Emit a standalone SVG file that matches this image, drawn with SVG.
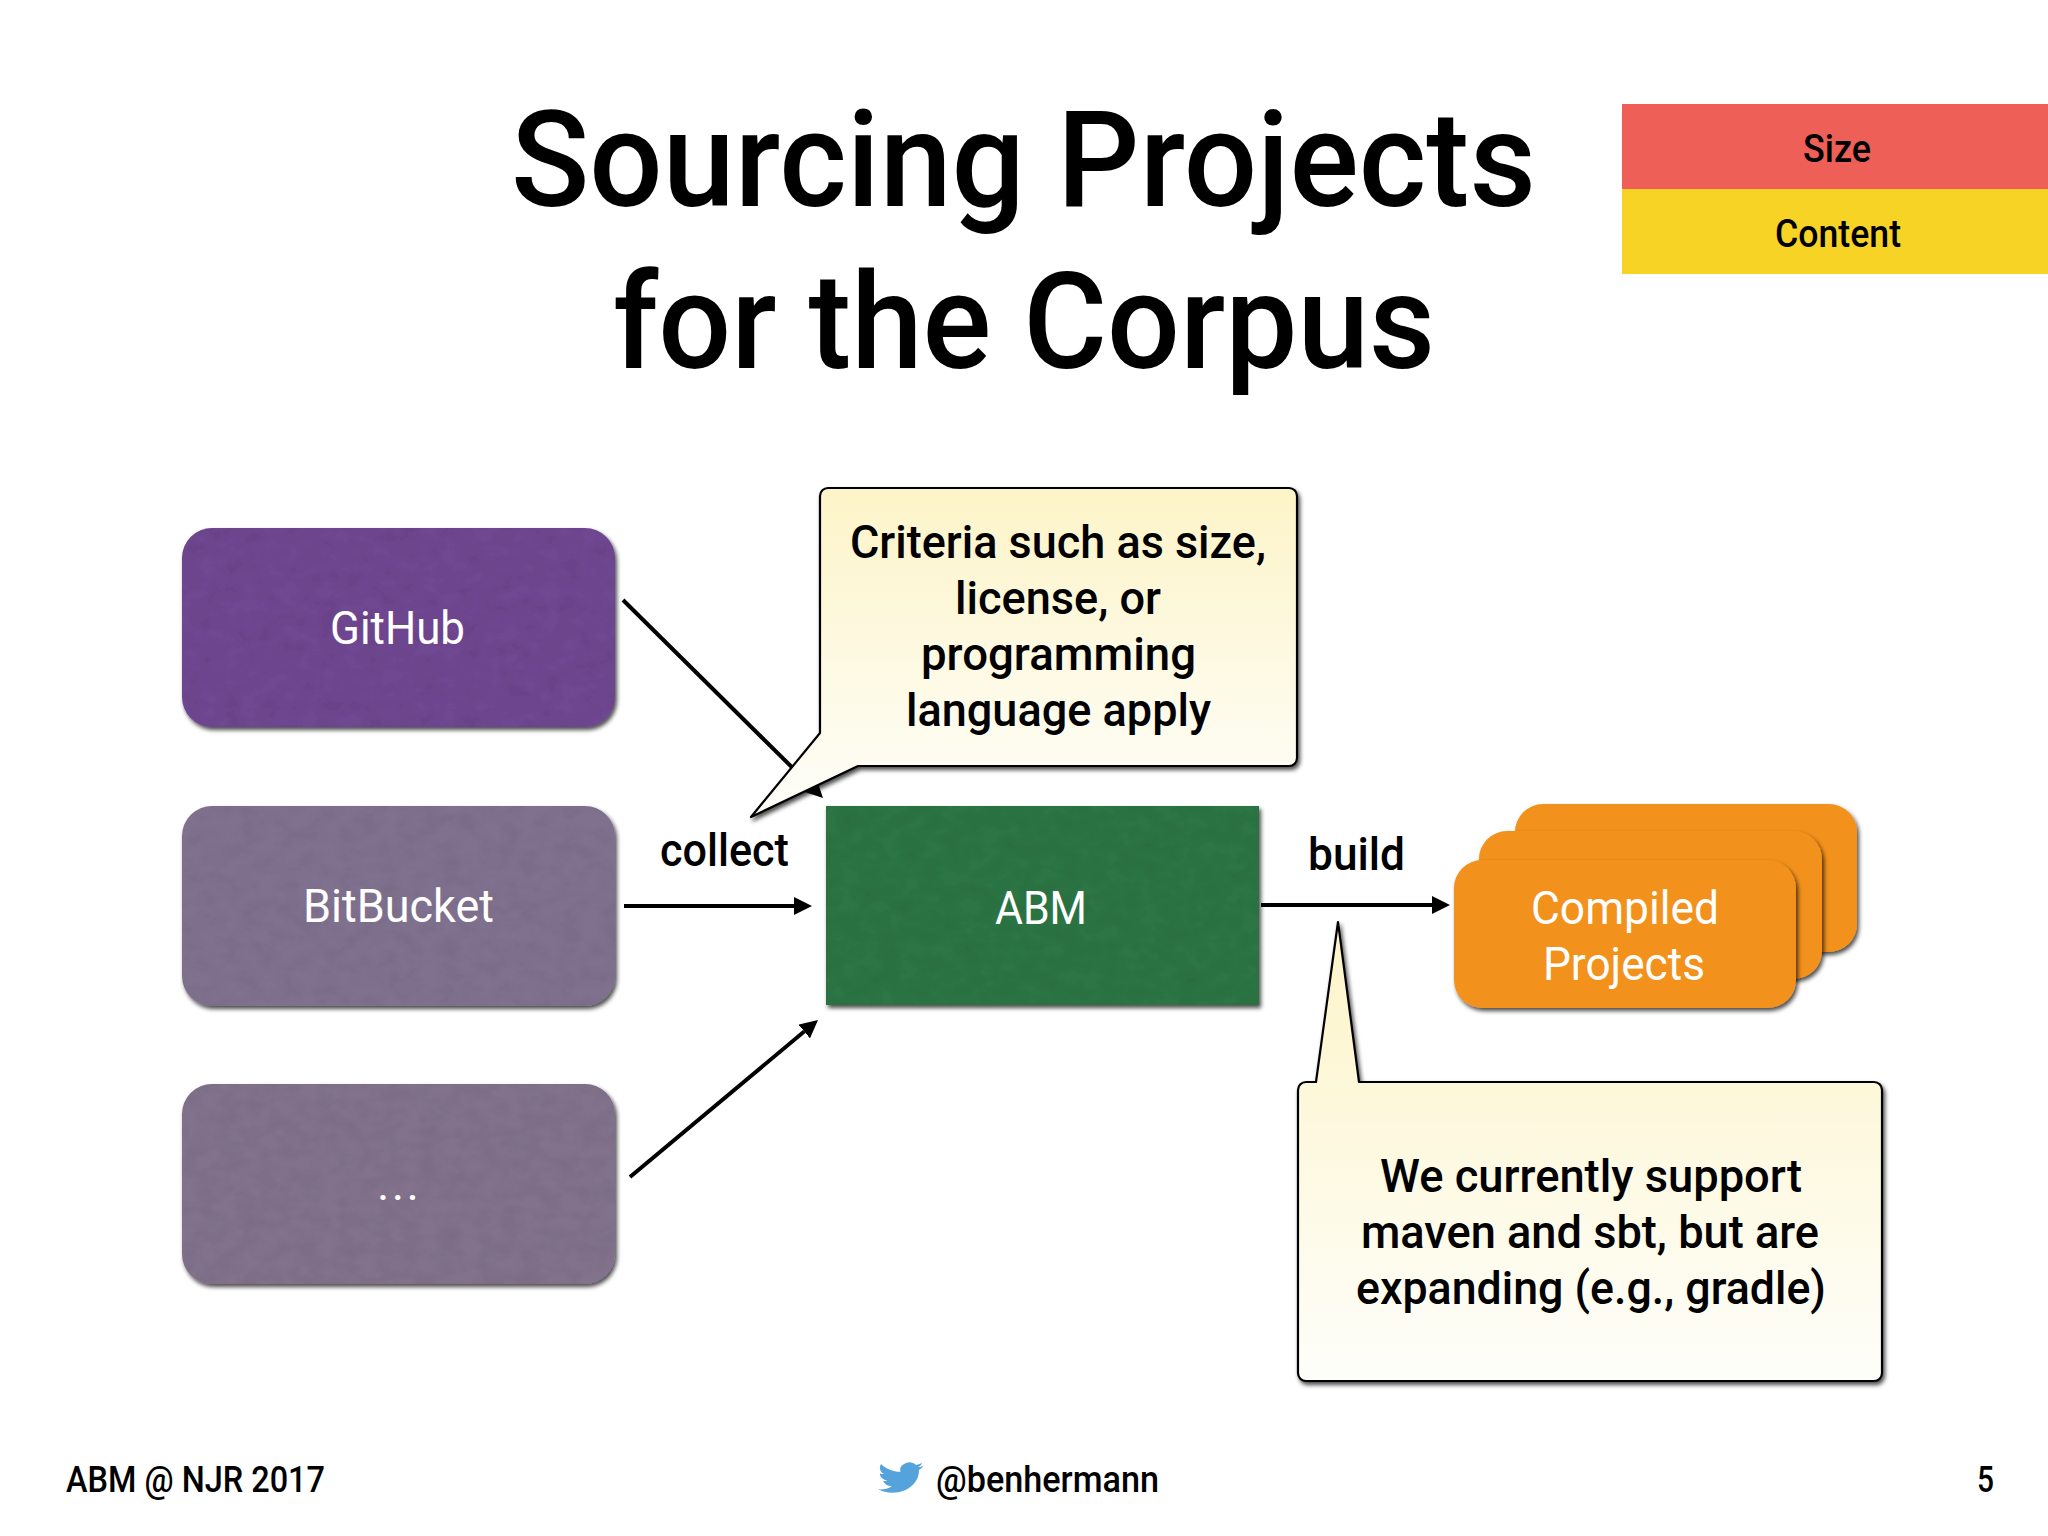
<svg xmlns="http://www.w3.org/2000/svg" width="2048" height="1536" viewBox="0 0 2048 1536">
<style>
text{font-family:"Roboto","Liberation Sans",sans-serif;fill:#000;font-weight:500}
.title{font-size:133px}
.w{fill:#fff;font-size:47px;font-weight:400}
.c{font-size:47px}
.f{font-size:36px}
.b{font-size:39px}
.ln{stroke:#000;stroke-width:4;fill:none;marker-end:url(#ah)}
.call{fill:url(#cg);stroke:#000;stroke-width:2.2;stroke-linejoin:round;filter:url(#sh)}
.or{fill:#F2911C;filter:url(#sh)}
</style>
<defs>
<marker id="ah" markerUnits="userSpaceOnUse" markerWidth="18" markerHeight="18" refX="0" refY="9" orient="auto"><path d="M0 0L18 9L0 18z" fill="#000"/></marker>
<linearGradient id="cg" x1="0" y1="0" x2="0" y2="1"><stop offset="0" stop-color="#FDF4C8"/><stop offset="1" stop-color="#FEFEFA"/></linearGradient>
<filter id="sh" x="-5%" y="-5%" width="110%" height="115%"><feDropShadow dx="2" dy="3" stdDeviation="2" flood-color="#000" flood-opacity="0.7"/></filter>
<filter id="tx" x="-5%" y="-5%" width="110%" height="115%">
<feTurbulence type="fractalNoise" baseFrequency="0.05 0.07" numOctaves="3" seed="4" result="n"/>
<feColorMatrix in="n" type="matrix" values="0 0 0 0 0  0 0 0 0 0  0 0 0 0 0  0 0 0 0.2 -0.07" result="d"/>
<feComposite in="d" in2="SourceGraphic" operator="in" result="dc"/>
<feMerge result="m"><feMergeNode in="SourceGraphic"/><feMergeNode in="dc"/></feMerge>
<feDropShadow in="m" dx="2" dy="3" stdDeviation="2" flood-color="#000" flood-opacity="0.7"/>
</filter>
</defs>
<rect width="2048" height="1536" fill="#fff"/>
<g id="title">
<text class="title" x="511" y="206" textLength="1025" lengthAdjust="spacingAndGlyphs">Sourcing Projects</text>
<text class="title" x="613" y="368" textLength="822" lengthAdjust="spacingAndGlyphs">for the Corpus</text>
</g>
<g id="legend">
<rect x="1622" y="104" width="426" height="85" fill="#EE5F57"/>
<rect x="1622" y="189" width="426" height="85" fill="#F6D324"/>
<text class="b" x="1803" y="162" textLength="68" lengthAdjust="spacingAndGlyphs">Size</text>
<text class="b" x="1775" y="247" textLength="126" lengthAdjust="spacingAndGlyphs">Content</text>
</g>
<g id="connectors">
<line class="ln" x1="623" y1="600" x2="810.2" y2="785.3"/>
<line class="ln" x1="624" y1="906" x2="794" y2="906"/>
<line class="ln" x1="630" y1="1177" x2="804.2" y2="1031.5"/>
<line class="ln" x1="1261" y1="905" x2="1432" y2="905"/>
</g>
<g id="github">
<rect x="182" y="528" width="433" height="199" rx="30" fill="#6F4791" filter="url(#tx)"/>
<text class="w" x="330" y="644" textLength="135" lengthAdjust="spacingAndGlyphs">GitHub</text>
</g>
<g id="bitbucket">
<rect x="182" y="806" width="433" height="200" rx="30" fill="#80728F" filter="url(#tx)"/>
<text class="w" x="303" y="922" textLength="191" lengthAdjust="spacingAndGlyphs">BitBucket</text>
</g>
<g id="other">
<rect x="182" y="1084" width="433" height="200" rx="30" fill="#82728C" filter="url(#tx)"/>
<text class="w" x="377" y="1200" textLength="42" lengthAdjust="spacing">...</text>
</g>
<g id="abm">
<rect x="826" y="806" width="433" height="199" fill="#2D7545" filter="url(#tx)"/>
<text class="w" x="995" y="924" textLength="92" lengthAdjust="spacingAndGlyphs">ABM</text>
</g>
<g id="collect-label"><text class="c" x="660" y="866" textLength="129" lengthAdjust="spacingAndGlyphs">collect</text></g>
<g id="build-label"><text class="c" x="1308" y="870" textLength="97" lengthAdjust="spacingAndGlyphs">build</text></g>
<g id="compiled">
<rect class="or" x="1515" y="804" width="342" height="148" rx="28"/>
<rect class="or" x="1479" y="831" width="343" height="148" rx="28"/>
<rect class="or" x="1454" y="860" width="342" height="148" rx="28"/>
<text class="w" x="1531" y="924" textLength="188" lengthAdjust="spacingAndGlyphs">Compiled</text>
<text class="w" x="1543" y="980" textLength="162" lengthAdjust="spacingAndGlyphs">Projects</text>
</g>
<g id="callout-criteria">
<path class="call" d="M828 488H1289a8 8 0 0 1 8 8V758a8 8 0 0 1-8 8H858L751 817L820 733V496a8 8 0 0 1 8-8z"/>
<text class="c" x="850" y="558" textLength="416" lengthAdjust="spacingAndGlyphs">Criteria such as size,</text>
<text class="c" x="955" y="614" textLength="206" lengthAdjust="spacingAndGlyphs">license, or</text>
<text class="c" x="921" y="670" textLength="275" lengthAdjust="spacingAndGlyphs">programming</text>
<text class="c" x="906" y="726" textLength="305" lengthAdjust="spacingAndGlyphs">language apply</text>
</g>
<g id="callout-support">
<path class="call" d="M1306 1082H1316L1338 922L1359 1082H1874a8 8 0 0 1 8 8V1373a8 8 0 0 1-8 8H1306a8 8 0 0 1-8-8V1090a8 8 0 0 1 8-8z"/>
<text class="c" x="1380" y="1192" textLength="422" lengthAdjust="spacingAndGlyphs">We currently support</text>
<text class="c" x="1361" y="1248" textLength="458" lengthAdjust="spacingAndGlyphs">maven and sbt, but are</text>
<text class="c" x="1356" y="1304" textLength="470" lengthAdjust="spacingAndGlyphs">expanding (e.g., gradle)</text>
</g>
<g id="footer">
<text class="f" x="66" y="1492" textLength="259" lengthAdjust="spacingAndGlyphs">ABM @ NJR 2017</text>
<path transform="translate(878 1459) scale(1.9 1.55)" fill="#55A3DC" d="M23.953 4.57a10 10 0 01-2.825.775 4.958 4.958 0 002.163-2.723c-.951.555-2.005.959-3.127 1.184a4.92 4.92 0 00-8.384 4.482C7.69 8.095 4.067 6.13 1.64 3.162a4.822 4.822 0 00-.666 2.475c0 1.71.87 3.213 2.188 4.096a4.904 4.904 0 01-2.228-.616v.06a4.923 4.923 0 003.946 4.827 4.996 4.996 0 01-2.212.085 4.936 4.936 0 004.604 3.417 9.867 9.867 0 01-6.102 2.105c-.39 0-.779-.023-1.17-.067a13.995 13.995 0 007.557 2.209c9.053 0 13.998-7.496 13.998-13.985 0-.21 0-.42-.015-.63A9.935 9.935 0 0024 4.59z"/>
<text class="f" x="936" y="1492" textLength="223" lengthAdjust="spacingAndGlyphs">@benhermann</text>
<text class="f" x="1977" y="1492" textLength="17" lengthAdjust="spacingAndGlyphs">5</text>
</g>
</svg>
